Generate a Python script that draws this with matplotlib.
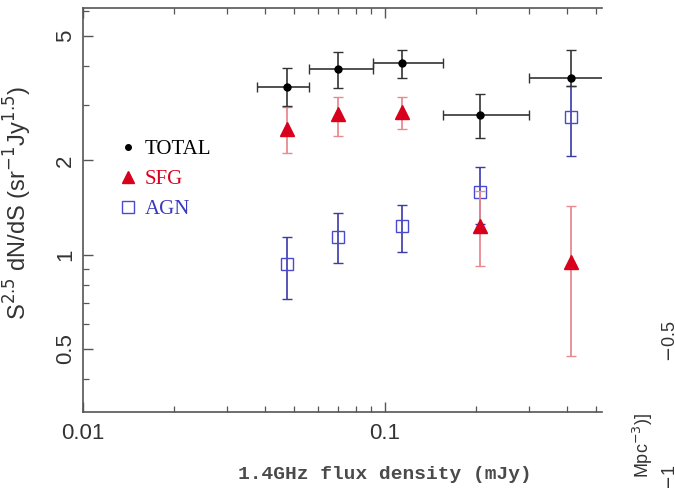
import numpy as np
import matplotlib
matplotlib.use("Agg")
import matplotlib.pyplot as plt
from matplotlib.lines import Line2D
from matplotlib.ticker import LogLocator, FixedLocator, NullFormatter, FixedFormatter

# --- donnees ---
flux = [0.0473, 0.0698, 0.1138, 0.2065, 0.413]
flux_lo = [0.0377, 0.056, 0.091, 0.156, 0.299]
flux_hi = [0.056, 0.091, 0.156, 0.299, 0.61]

total = [3.43, 3.92, 4.09, 2.79, 3.66]
total_hi = [3.95, 4.44, 4.51, 3.26, 4.51]
total_lo = [2.98, 3.40, 3.66, 2.35, 3.45]

sfg = [2.52, 2.81, 2.85, 1.23, 0.95]
sfg_hi = [2.96, 3.19, 3.19, 1.60, 1.43]
sfg_lo = [2.11, 2.39, 2.52, 0.92, 0.475]

agn = [0.93, 1.14, 1.23, 1.59, 2.75]
agn_hi = [1.14, 1.36, 1.44, 1.91, 3.45]
agn_lo = [0.72, 0.94, 1.02, 1.25, 2.06]

labels = ["TOTAL", "SFG", "AGN"]
x_ticks = [0.01, 0.1]
y_ticks = [0.5, 1, 2, 5]


def yerr(v, lo, hi):
    v, lo, hi = map(np.asarray, (v, lo, hi))
    return np.vstack([v - lo, hi - v])


fig = plt.figure(figsize=(6.75, 4.88), dpi=100)
ax = fig.add_axes([0.123, 0.156, 0.769, 0.828])
ax.set_xscale("log")
ax.set_yscale("log")

x = np.asarray(flux)
xerr = np.vstack([x - np.asarray(flux_lo), np.asarray(flux_hi) - x])

ax.errorbar(flux, total, xerr=xerr, yerr=yerr(total, total_lo, total_hi),
            fmt="o", ms=5, color="black", ecolor="#333333", elinewidth=1.2,
            capsize=3.5, capthick=1.0, zorder=5)
ax.errorbar(flux, sfg, yerr=yerr(sfg, sfg_lo, sfg_hi), fmt="^", ms=10,
            color="#d8001c", ecolor="#e88a90", elinewidth=1.3,
            capsize=3.5, capthick=1.0, zorder=4)
ax.errorbar(flux, agn, yerr=yerr(agn, agn_lo, agn_hi), fmt="s", ms=9,
            mfc="none", mec="#4a4ad0", mew=1.0, color="#4a4ad0",
            ecolor="#3a3aa8", elinewidth=1.2, capsize=3.5, capthick=1.0,
            zorder=3)

ax.set_xlim(0.01, 0.523)
ax.set_ylim(0.314, 6.15)

# axes / ticks
ax.spines["right"].set_visible(False)
for s in ["left", "bottom", "top"]:
    ax.spines[s].set_color("#555555")
    ax.spines[s].set_linewidth(1.2)

ax.xaxis.set_major_locator(FixedLocator(x_ticks))
ax.xaxis.set_major_formatter(FixedFormatter(["0.01", "0.1"]))
ax.xaxis.set_minor_locator(LogLocator(base=10, subs=np.arange(2, 10)))
ax.xaxis.set_minor_formatter(NullFormatter())
ax.yaxis.set_major_locator(FixedLocator(y_ticks))
ax.yaxis.set_major_formatter(FixedFormatter(["0.5", "1", "2", "5"]))
ax.yaxis.set_minor_locator(LogLocator(base=10, subs=np.arange(2, 10)))
ax.yaxis.set_minor_formatter(NullFormatter())

ax.tick_params(which="both", direction="in", top=True, right=False,
               color="#555555", labelcolor="#333333")
ax.tick_params(which="major", length=7, width=1.0)
ax.tick_params(which="minor", length=4, width=0.9)
ax.tick_params(axis="x", which="major", pad=8, labelsize=16)
ax.tick_params(axis="y", which="major", pad=5, labelsize=16)
for lab in ax.get_xticklabels():
    lab.set_fontfamily("Liberation Sans")
for lab in ax.get_yticklabels():
    lab.set_fontfamily("Liberation Sans")
    lab.set_rotation(90)
    lab.set_va("center")

ax.set_xlabel("1.4GHz flux density (mJy)", fontfamily="Liberation Mono",
              fontsize=14, fontweight="bold", color="#4a4a4a")
ax.xaxis.set_label_coords(0.582, -0.135)
ax.set_ylabel(r"S$^{2.5}$ dN/dS (sr$^{-1}$Jy$^{1.5}$)",
              fontfamily="Liberation Sans", fontsize=17, color="#333333")
ax.yaxis.set_label_coords(-0.095, 0.517)

# legende
handles = [
    Line2D([], [], ls="none", marker="o", ms=4, color="black"),
    Line2D([], [], ls="none", marker="^", ms=9, color="#d8001c"),
    Line2D([], [], ls="none", marker="s", ms=8, mfc="none", mec="#4a4ad0"),
]
leg = ax.legend(handles, labels, loc="upper left",
                bbox_to_anchor=(0.038, 0.72), frameon=False,
                handlelength=0.6, handletextpad=0.5, labelspacing=0.5,
                prop={"family": "Liberation Serif", "size": 15},
                labelcolor=["black", "#d8001c", "#3a3ac0"])

# bouts du panneau voisin (coupes par le cadre)
fig.text(0.953, 0.154, r"Mpc$^{-3}$)]", rotation=90, fontsize=13,
         fontfamily="Liberation Sans", color="#333333", ha="center",
         va="top")
fig.text(0.993, 0.30, r"$-$0.5", rotation=90, fontsize=13,
         fontfamily="Liberation Sans", color="#333333", ha="center",
         va="center")
fig.text(0.993, 0.02, r"$-$1", rotation=90, fontsize=13,
         fontfamily="Liberation Sans", color="#333333", ha="center",
         va="center")

fig.savefig("out.png", dpi=100)
